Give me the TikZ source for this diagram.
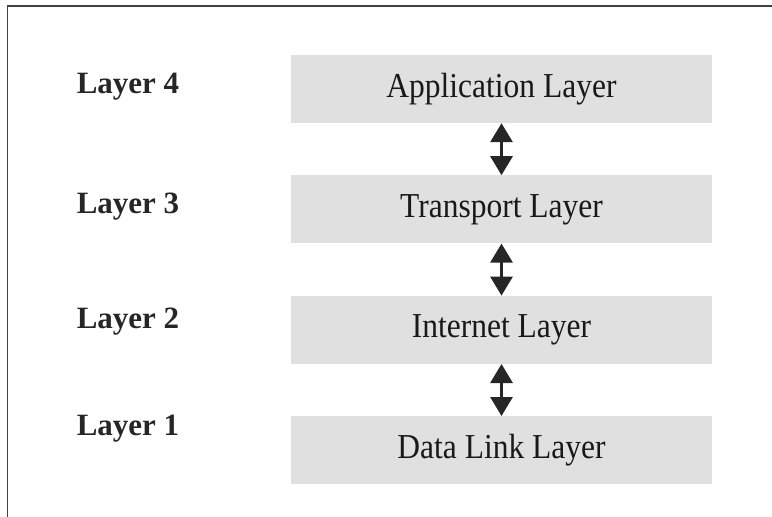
\documentclass[tikz,border=0pt]{standalone}
\usepackage{fontspec}
\setmainfont{Liberation Serif}
\newfontfamily\boxfont[FakeStretch=0.9]{Liberation Serif}
\usepackage{tikz}
\usetikzlibrary{positioning,arrows.meta}

\begin{document}
\begin{tikzpicture}
    [ x = 1pt, y = -1pt
    , node distance = 52pt
    , layerbox/.style =
      { fill = black!12, minimum width = 421pt, minimum height = 68pt
      , inner sep = 0pt, text = black!90
      , font = \boxfont\fontsize{35}{35}\selectfont }
    , layername/.style =
      { anchor = base, text = black!85, inner sep = 0pt
      , font = \bfseries\fontsize{31}{31}\selectfont }
    , updown/.style =
      { line width = 3pt, draw = black!85
      , {Triangle[width=22pt,length=19pt]}-{Triangle[width=22pt,length=19pt]} }
    , frame/.style =
      { draw = black!75, line width = 1.8pt }
    ]
    \useasboundingbox (0,0) rectangle (772,517);

    \draw [frame] (780,6) -- (7.5,6) -- (7.5,525);

    \node [layerbox] (app) at (501.5,89) {Application Layer};
    \node [layerbox] (trans) [below=of app] {Transport Layer};
    \node [layerbox] (inet) [below=of trans] {Internet Layer};
    \node [layerbox] (link) [below=of inet] {Data Link Layer};

    \node [layername] (l4) at (128,93) {Layer 4};
    \node [layername] (l3) at (128,213) {Layer 3};
    \node [layername] (l2) at (128,328) {Layer 2};
    \node [layername] (l1) at (128,435) {Layer 1};

    \draw [updown] (app) -- (trans);
    \draw [updown] (trans) -- (inet);
    \draw [updown] (inet) -- (link);
\end{tikzpicture}
\end{document}
